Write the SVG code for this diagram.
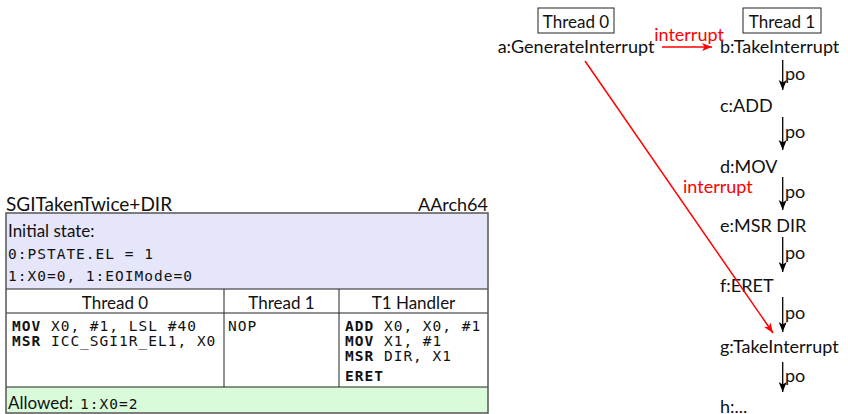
<svg xmlns="http://www.w3.org/2000/svg" width="848" height="414" viewBox="0 0 848 414">
<defs>
<style>
.sans{font-family:Lato,"Open Sans","Liberation Sans",sans-serif;fill:#111}
.mono{font-family:"DejaVu Sans Mono","Liberation Mono",monospace;font-size:14.5px;letter-spacing:1px;fill:#111}
.b{font-weight:bold}
.t19{font-size:19px}
.t18{font-size:18px}
.t17{font-size:17px}
.red{fill:#ff0000}
.po{stroke:#000;stroke-width:1.3;fill:none}
.ir{stroke:#ff0000;stroke-width:1.5;fill:none}
.frame{fill:none;stroke:#555;stroke-width:1.5}
.rule{stroke:#222;stroke-width:1;fill:none}
.tbox{fill:#fff;stroke:#222;stroke-width:1}
</style>
<marker id="ah" markerUnits="userSpaceOnUse" markerWidth="12" markerHeight="10" refX="10" refY="4" orient="auto">
<path d="M0,0 L10,4 L0,8 L2.5,4 z" fill="#000"/>
</marker>
<marker id="ahr" markerUnits="userSpaceOnUse" markerWidth="12" markerHeight="10" refX="10" refY="4" orient="auto">
<path d="M0,0 L10,4 L0,8 L2.5,4 z" fill="#ff0000"/>
</marker>
</defs>

<g id="litmus-table">
<text class="sans t19" x="6" y="211">SGITakenTwice+DIR</text>
<text class="sans t18" x="488" y="211" text-anchor="end">AArch64</text>
<rect x="6" y="213" width="482" height="76" fill="#e6e6fa"/>
<rect x="6" y="387" width="482" height="26" fill="#d9fbd9"/>
<text class="sans t17" x="8" y="237">Initial state:</text>
<text class="mono" x="8" y="259">0:PSTATE.EL = 1</text>
<text class="mono" x="8" y="281">1:X0=0, 1:EOIMode=0</text>
<line class="rule" x1="6" y1="289" x2="488" y2="289"/>
<line class="rule" x1="6" y1="313" x2="488" y2="313"/>
<line class="rule" x1="6" y1="387" x2="488" y2="387"/>
<line class="rule" x1="224" y1="289" x2="224" y2="387"/>
<line class="rule" x1="339" y1="289" x2="339" y2="387"/>
<text class="sans t17" x="115" y="309" text-anchor="middle">Thread 0</text>
<text class="sans t17" x="281.5" y="309" text-anchor="middle">Thread 1</text>
<text class="sans t17" x="413.5" y="309" text-anchor="middle">T1 Handler</text>
<text class="mono" x="12" y="331"><tspan class="b">MOV</tspan> X0, #1, LSL #40</text>
<text class="mono" x="12" y="346"><tspan class="b">MSR</tspan> ICC_SGI1R_EL1, X0</text>
<text class="mono" x="228" y="331">NOP</text>
<text class="mono" x="345" y="331"><tspan class="b">ADD</tspan> X0, X0, #1</text>
<text class="mono" x="345" y="346"><tspan class="b">MOV</tspan> X1, #1</text>
<text class="mono" x="345" y="361"><tspan class="b">MSR</tspan> DIR, X1</text>
<text class="mono b" x="345" y="381">ERET</text>
<text class="sans t17" x="8" y="409">Allowed: <tspan class="mono" x="80">1:X0=2</tspan></text>
<rect class="frame" x="6" y="213" width="482" height="200"/>
</g>

<g id="thread0-label">
<rect class="tbox" x="538" y="8" width="76" height="25"/>
<text class="sans t17" x="576" y="28" text-anchor="middle">Thread 0</text>
</g>
<g id="thread1-label">
<rect class="tbox" x="743" y="8" width="78" height="25"/>
<text class="sans t17" x="782" y="28" text-anchor="middle">Thread 1</text>
</g>

<g id="a"><text class="sans t18" x="576" y="53" text-anchor="middle">a:GenerateInterrupt</text></g>
<g id="b"><text class="sans t18" x="720" y="53">b:TakeInterrupt</text></g>
<g id="c"><text class="sans t18" x="720" y="112">c:ADD</text></g>
<g id="d"><text class="sans t18" x="720" y="173">d:MOV</text></g>
<g id="e"><text class="sans t18" x="720" y="232">e:MSR DIR</text></g>
<g id="f"><text class="sans t18" x="720" y="292">f:ERET</text></g>
<g id="g"><text class="sans t18" x="720" y="353">g:TakeInterrupt</text></g>
<g id="h"><text class="sans t18" x="720" y="413">h:...</text></g>

<g id="connectors">
<line class="ir" x1="662" y1="47" x2="712" y2="47" marker-end="url(#ahr)"/>
<text class="sans t18 red" x="689" y="41" text-anchor="middle">interrupt</text>
<line class="ir" x1="585" y1="61" x2="773" y2="333" marker-end="url(#ahr)"/>
<text class="sans t18 red" x="683" y="193">interrupt</text>
<line class="po" x1="782.7" y1="60" x2="782.7" y2="90" marker-end="url(#ah)"/>
<text class="sans t18" x="785" y="80">po</text>
<line class="po" x1="782.7" y1="117" x2="782.7" y2="150" marker-end="url(#ah)"/>
<text class="sans t18" x="785" y="138">po</text>
<line class="po" x1="782.7" y1="177" x2="782.7" y2="210" marker-end="url(#ah)"/>
<text class="sans t18" x="785" y="198">po</text>
<line class="po" x1="782.7" y1="237" x2="782.7" y2="272" marker-end="url(#ah)"/>
<text class="sans t18" x="785" y="259">po</text>
<line class="po" x1="782.7" y1="297" x2="782.7" y2="332" marker-end="url(#ah)"/>
<text class="sans t18" x="785" y="319">po</text>
<line class="po" x1="782.7" y1="362" x2="782.7" y2="392" marker-end="url(#ah)"/>
<text class="sans t18" x="785" y="382">po</text>
</g>
</svg>
